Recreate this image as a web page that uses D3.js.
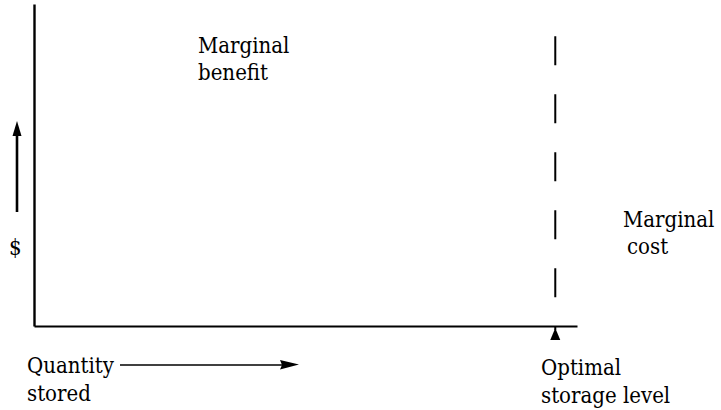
<!DOCTYPE html>
<html>
<head>
<meta charset="utf-8">
<script src="https://cdn.jsdelivr.net/npm/d3@7"></script>
<style>
  html, body { margin: 0; padding: 0; background: #fff; }
  svg { display: block; }
</style>
</head>
<body>
<svg id="chart" width="721" height="410"></svg>
<script>
// ---- data ----
const xDomain = [0, 100];          // quantity stored (arbitrary units)
const yDomain = [0, 100];          // $ (arbitrary units)
const optimalLevel = [96];         // optimal storage level on the quantity axis
const dashTop = [90];              // height where the dashed marker starts
const benefitLabel = ["Marginal", "benefit"];
const costLabel = ["Marginal", "cost"];
const xAxisLabel = ["Quantity", "stored"];
const optimalLabel = ["Optimal", "storage level"];
const yAxisLabel = ["$"];

// ---- layout ----
const FONT = "'DejaVu Serif Condensed', 'DejaVu Serif', serif";
const svg = d3.select("#chart");
const x = d3.scaleLinear().domain(xDomain).range([34, 577]);
const y = d3.scaleLinear().domain(yDomain).range([326, 4]);

// axes (bare lines, no ticks)
const xAxis = d3.axisBottom(x).tickValues([]).tickSizeOuter(0);
const yAxis = d3.axisLeft(y).tickValues([]).tickSizeOuter(0);
svg.append("g").attr("transform", `translate(0,${y(0)})`).call(xAxis)
  .select(".domain").attr("stroke", "#000").attr("stroke-width", 2.2);
svg.append("g").attr("transform", `translate(${x(0)},0)`).call(yAxis)
  .select(".domain").attr("stroke", "#000").attr("stroke-width", 2.4);

// dashed optimal line
svg.selectAll("line.opt").data(optimalLevel).enter().append("line")
  .attr("class", "opt")
  .attr("x1", d => x(d)).attr("x2", d => x(d))
  .attr("y1", y(dashTop[0])).attr("y2", y(0) + 4)
  .attr("stroke", "#000").attr("stroke-width", 2)
  .attr("stroke-dasharray", "29,29");

// small upward arrow at optimal level
svg.selectAll("path.optArrow").data(optimalLevel).enter().append("path")
  .attr("class", "optArrow")
  .attr("d", d => `M${x(d)},${y(0) + 2} L${x(d) - 5},${y(0) + 14} L${x(d) + 5},${y(0) + 14} Z`)
  .attr("fill", "#000");

// vertical $ arrow
svg.append("line")
  .attr("x1", 17).attr("x2", 17)
  .attr("y1", 212).attr("y2", 132)
  .attr("stroke", "#000").attr("stroke-width", 2.6);
svg.append("path")
  .attr("d", "M17,121 L12.5,136 L21.5,136 Z").attr("fill", "#000");

// horizontal quantity arrow
svg.append("line")
  .attr("x1", 120).attr("x2", 284)
  .attr("y1", 365).attr("y2", 365)
  .attr("stroke", "#000").attr("stroke-width", 1.6);
svg.append("path")
  .attr("d", "M299,364.5 L280,360 L282,365 L280,369.5 Z").attr("fill", "#000");

// labels
const fs = 22;
function block(lines, xPos, yPos, dy, offsets) {
  const t = svg.append("text").attr("font-size", fs)
    .attr("font-family", FONT).attr("font-stretch", "condensed").attr("fill", "#000");
  lines.forEach((s, i) => {
    t.append("tspan").attr("x", xPos + (offsets ? offsets[i] : 0))
      .attr("y", yPos + i * dy).text(s);
  });
}
block(benefitLabel, 198, 53, 27);
block(costLabel, 623, 227, 27, [0, 4]);
block(xAxisLabel, 27, 373, 28);
block(optimalLabel, 541, 375, 28);
svg.append("text").attr("font-size", fs).attr("font-family", FONT)
  .attr("font-stretch", "condensed")
  .attr("x", 9).attr("y", 255).text(yAxisLabel[0]);
</script>
</body>
</html>
